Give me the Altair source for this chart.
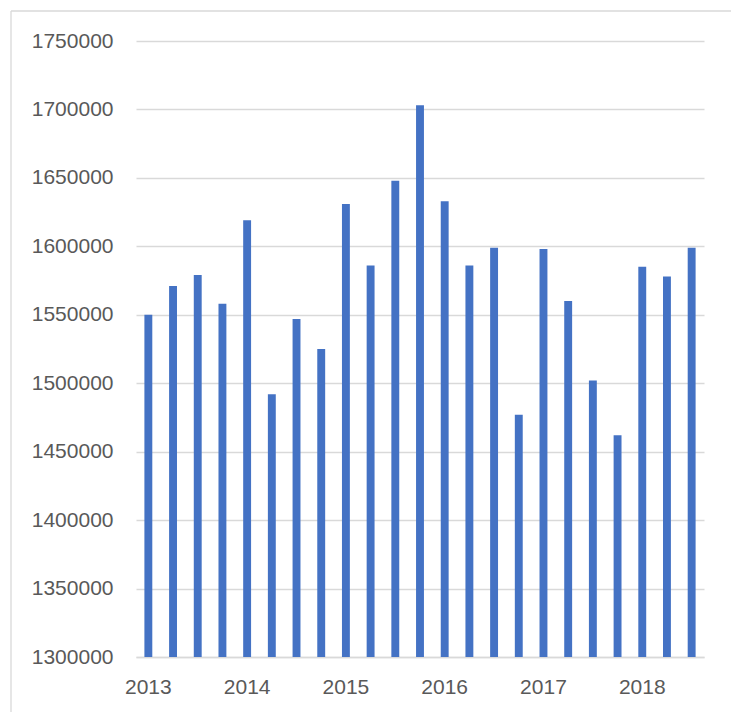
import altair as alt
import pandas as pd

years = ["2013", "2014", "2015", "2016", "2017", "2018"]
quarters = ["Q1", "Q2", "Q3", "Q4"]
values = [
    1550000, 1571000, 1579000, 1558000,
    1619000, 1492000, 1547000, 1525000,
    1631000, 1586000, 1648000, 1703000,
    1633000, 1586000, 1599000, 1477000,
    1598000, 1560000, 1502000, 1462000,
    1585000, 1578000, 1599000,
]
y_ticks = [1300000, 1350000, 1400000, 1450000, 1500000, 1550000,
           1600000, 1650000, 1700000, 1750000]

periods = [f"{y} {q}" for y in years for q in quarters][: len(values)]
df = pd.DataFrame({"period": periods, "value": values})

FONT = "Liberation Sans"
GRID = "#d9d9d9"
TEXT = "#595959"

bars = alt.Chart(df).mark_bar(color="#4472C4", clip=True).encode(
    x=alt.X(
        "period:N",
        sort=periods,
        title=None,
        scale=alt.Scale(paddingInner=0.68, paddingOuter=0.34),
        axis=alt.Axis(
            labelExpr="indexof(datum.value, 'Q1') >= 0 ? substring(datum.value, 0, 4) : ''",
            labelAngle=0,
            labelFont=FONT,
            labelFontSize=21,
            labelColor=TEXT,
            labelPadding=19,
            ticks=False,
            domainColor=GRID,
            domainWidth=1.5,
            grid=False,
            labelOverlap=False,
        ),
    ),
    y=alt.Y(
        "value:Q",
        title=None,
        scale=alt.Scale(domain=[1300000, 1750000], nice=False, zero=False),
        axis=alt.Axis(
            values=y_ticks,
            format="d",
            labelFont=FONT,
            labelFontSize=21,
            labelColor=TEXT,
            labelPadding=23,
            ticks=False,
            domain=False,
            gridColor=GRID,
            gridWidth=1.3,
        ),
    ),
)

frame_data = alt.Data(values=[{"k": 1}])
left_border = alt.Chart(frame_data).mark_rule(color=GRID, strokeWidth=1.3, clip=False).encode(
    x=alt.value(-125), y=alt.value(-30), y2=alt.value(700)
)
top_border = alt.Chart(frame_data).mark_rule(color=GRID, strokeWidth=1.3, clip=False).encode(
    x=alt.value(-125), x2=alt.value(620), y=alt.value(-30)
)

chart = alt.layer(bars, left_border, top_border).properties(
    width=568,
    height=616,
    autosize=alt.AutoSizeParams(type="none"),
    padding={"left": 136, "top": 41, "right": 27, "bottom": 55},
    background="white",
).configure_view(stroke=None)

chart.save("out.html", embed_options={"renderer": "svg", "actions": False})
